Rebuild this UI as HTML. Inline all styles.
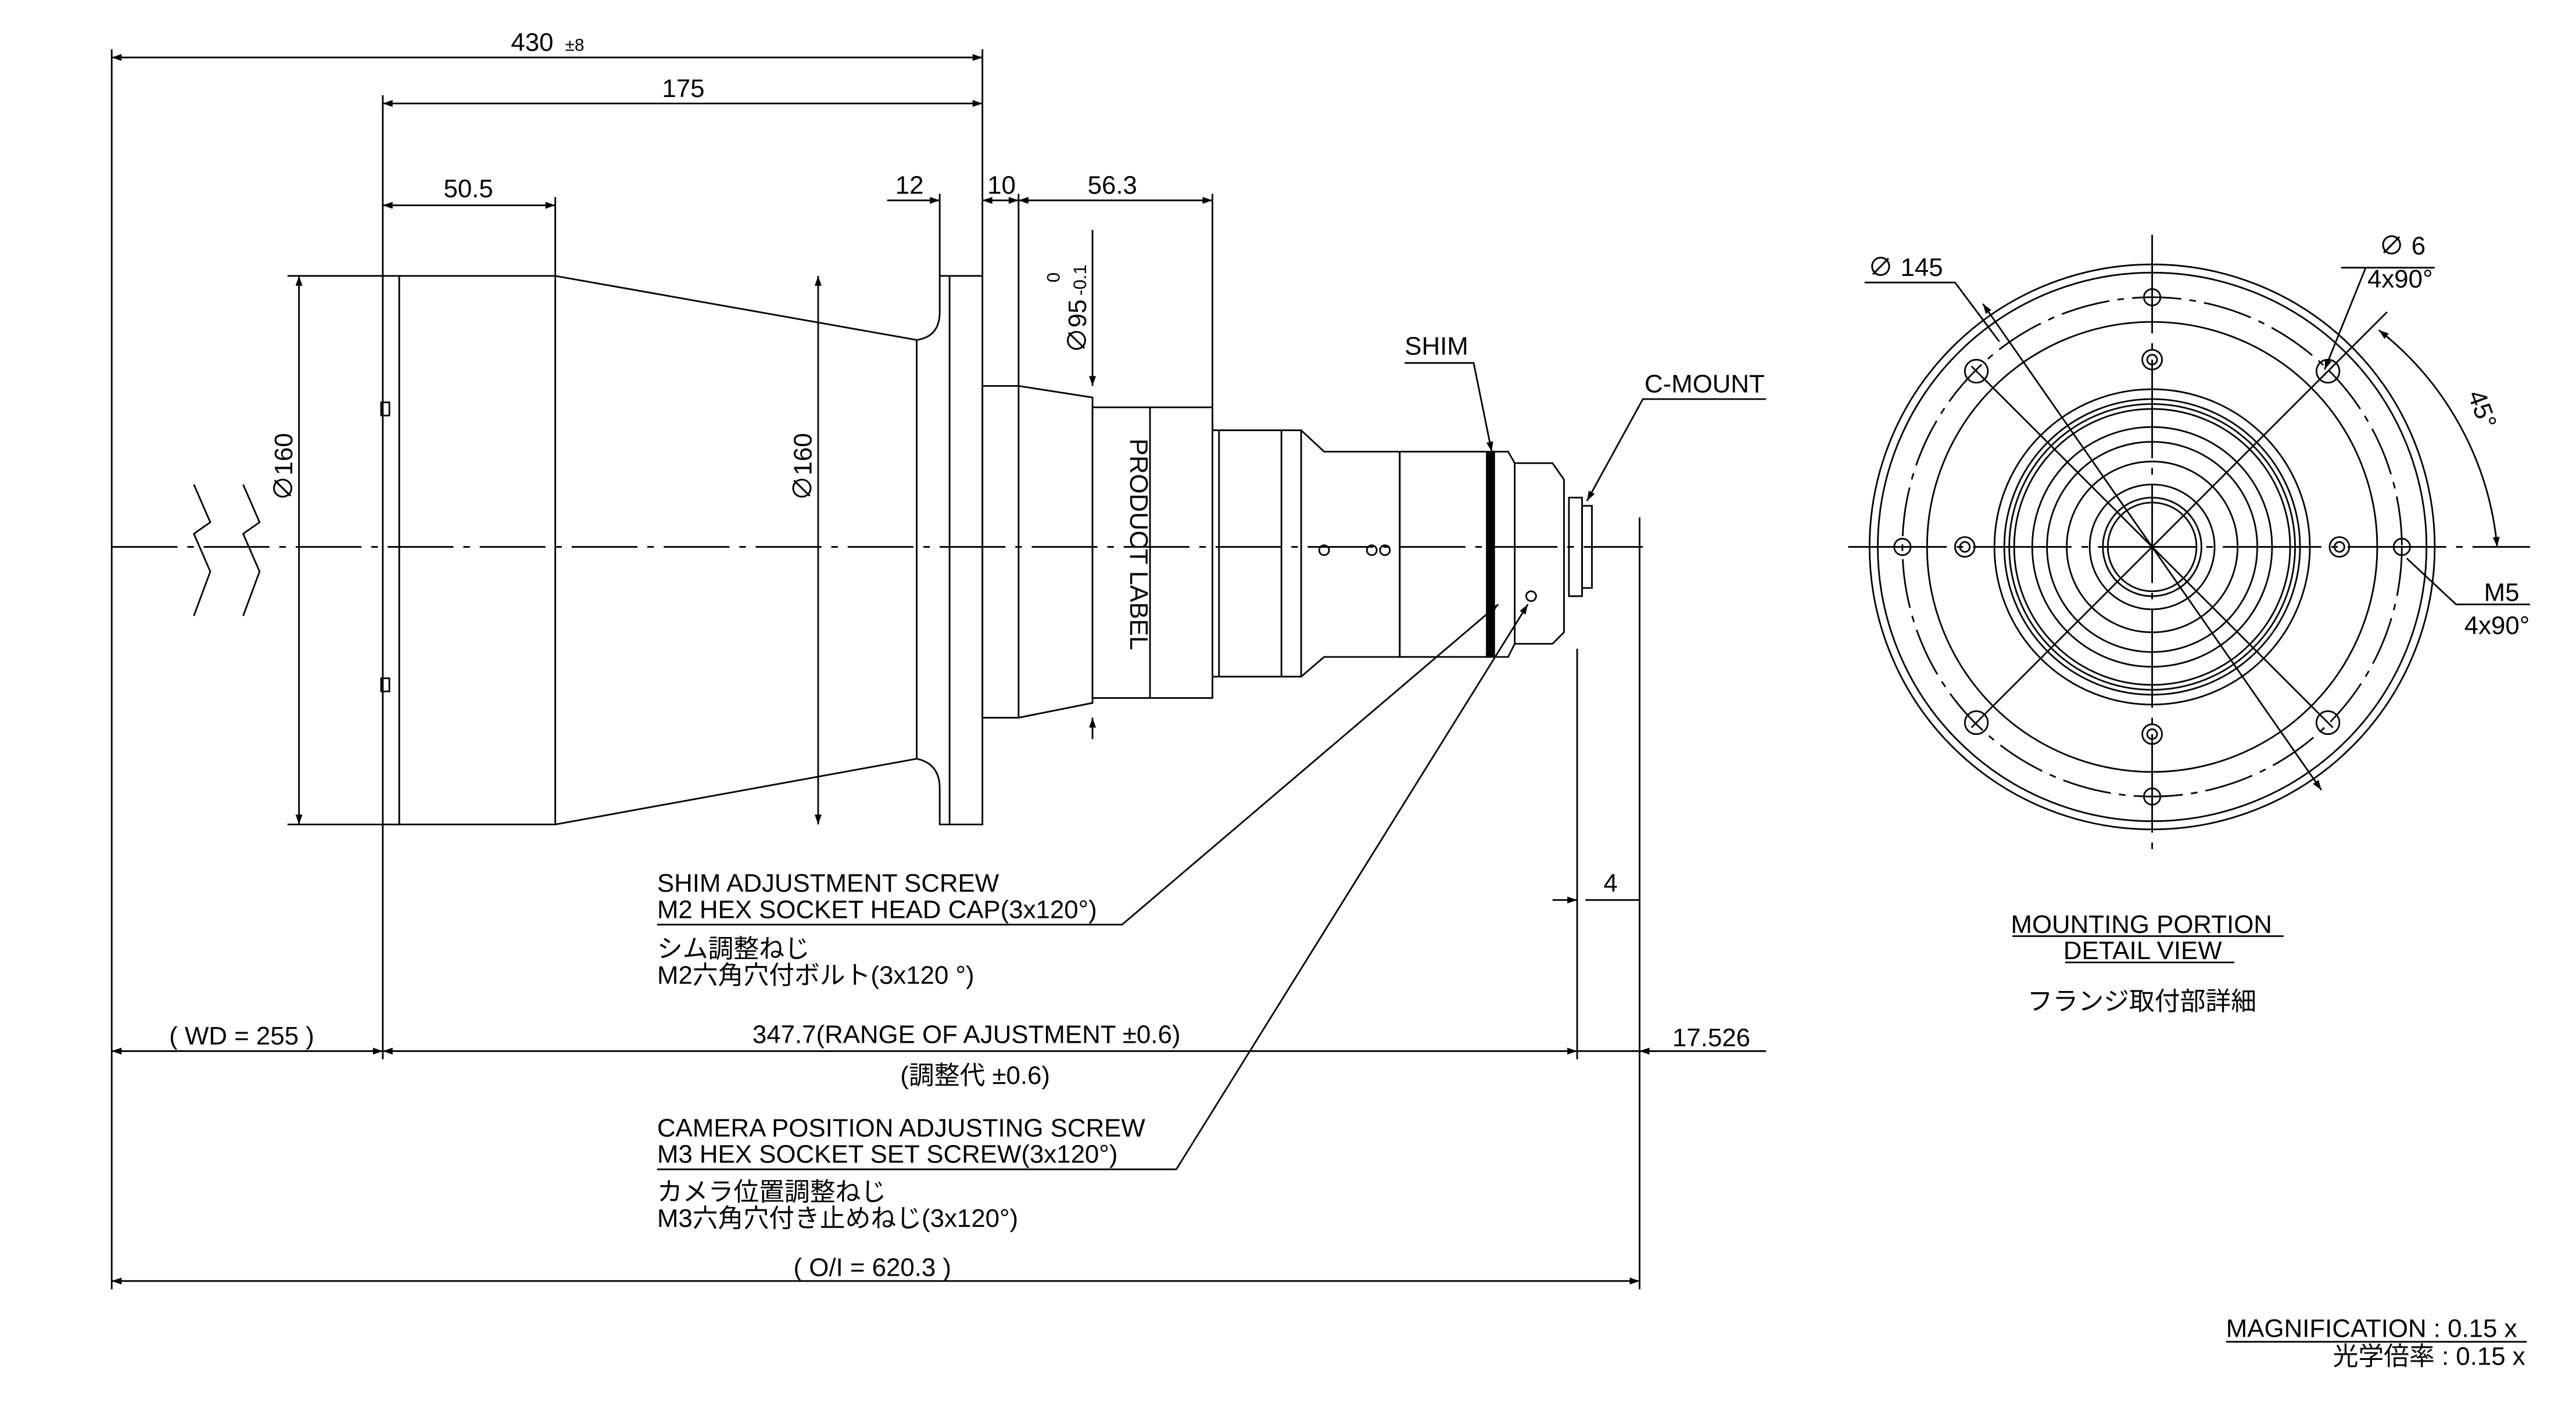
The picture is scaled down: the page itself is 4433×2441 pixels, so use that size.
<!DOCTYPE html>
<html><head><meta charset="utf-8"><style>
html,body{margin:0;padding:0;background:#fff;}
svg{display:block;}
text{font-family:"Liberation Sans","Noto Sans CJK JP",sans-serif;fill:#000;}
</style></head><body>
<svg width="4433" height="2441" viewBox="0 0 1568 863.4" preserveAspectRatio="none" xmlns="http://www.w3.org/2000/svg">
<defs>
<marker id="a" viewBox="0 0 10 10" refX="10" refY="5" markerWidth="10" markerHeight="6" orient="auto-start-reverse" markerUnits="userSpaceOnUse"><path d="M0,1.5 L10,5 L0,8.5z" fill="#000"/></marker>
</defs>
<rect width="1568" height="863.4" fill="#fff"/>
<g stroke="#000" stroke-width="1" fill="none">
<line x1="68" y1="30" x2="68" y2="640"/>
<line x1="598" y1="30" x2="598" y2="168"/>
<line x1="233" y1="58" x2="233" y2="168"/>
<line x1="338" y1="120" x2="338" y2="168"/>
<line x1="572" y1="118" x2="572" y2="168"/>
<line x1="620" y1="118" x2="620" y2="235"/>
<line x1="738" y1="118" x2="738" y2="248"/>
<line x1="68" y1="35" x2="598" y2="35" marker-start="url(#a)" marker-end="url(#a)"/>
<line x1="233" y1="63" x2="598" y2="63" marker-start="url(#a)" marker-end="url(#a)"/>
<line x1="233" y1="125" x2="338" y2="125" marker-start="url(#a)" marker-end="url(#a)"/>
<line x1="540" y1="122" x2="572" y2="122" marker-end="url(#a)"/>
<line x1="598" y1="122" x2="620" y2="122" marker-start="url(#a)" marker-end="url(#a)"/>
<line x1="620" y1="122" x2="738" y2="122" marker-start="url(#a)" marker-end="url(#a)"/>
<line x1="175" y1="168" x2="233" y2="168"/><line x1="175" y1="502" x2="233" y2="502"/>
<line x1="182" y1="168" x2="182" y2="502" marker-start="url(#a)" marker-end="url(#a)"/>
<line x1="498" y1="168" x2="498" y2="502" marker-start="url(#a)" marker-end="url(#a)"/>
<line x1="665" y1="140" x2="665" y2="235" marker-end="url(#a)"/>
<line x1="665" y1="437" x2="665" y2="450" marker-start="url(#a)"/>
<path d="M118,295 L128,318 L118,325 L128,348 L118,375"/>
<path d="M148,295 L158,318 L148,325 L158,348 L148,375"/>
<line x1="68" y1="333" x2="1000" y2="333" stroke-dasharray="40,6,4,6"/>
<rect x="233" y="168" width="10" height="334"/>
<rect x="243" y="168" width="95" height="334"/>
<path d="M338,168 L558,207 M338,502 L558,462"/>
<path d="M558,207 Q572,205 572,190 L572,168 L598,168 L598,502 L572,502 L572,480 Q572,465 558,462 Z"/>
<line x1="578" y1="168" x2="578" y2="502"/>
<rect x="232" y="245" width="5" height="8"/><rect x="232" y="413" width="5" height="8"/>
<rect x="598" y="235" width="22" height="202"/>
<path d="M620,235 L665,242 L665,428 L620,437"/>
<rect x="665" y="248" width="73" height="177"/>
<line x1="700" y1="248" x2="700" y2="425"/>
<path d="M738,248 L738,262 L792,262 L792,412 L738,412 L738,425"/>
<line x1="742" y1="262" x2="742" y2="412"/>
<path d="M792,262 L806,275 L852,275 L852,400 L806,400 L792,412"/>
<line x1="780" y1="262" x2="780" y2="412"/>
<rect x="852" y="275" width="53" height="125"/>
<rect x="906" y="275" width="3.5" height="125" fill="#000"/>
<path d="M909.5,275 L918,275 L922,282 L945,282 L952,292 L952,385 L945,392 L922,392 L918,400 L909.5,400"/>
<line x1="922" y1="282" x2="922" y2="392"/>
<rect x="955" y="303" width="8" height="60"/>
<rect x="963" y="308" width="6" height="50"/>
<circle cx="806" cy="335" r="3"/><circle cx="835" cy="335" r="3"/><circle cx="843" cy="335" r="3"/>
<circle cx="932" cy="363" r="3"/>
<line x1="998" y1="315" x2="998" y2="785"/>
<line x1="960" y1="395" x2="960" y2="645"/>
<line x1="945" y1="548" x2="960" y2="548" marker-end="url(#a)"/>
<line x1="965" y1="548" x2="998" y2="548"/>
<line x1="233" y1="502" x2="233" y2="645"/>
<path d="M855,221 L897,221 L908,275" marker-end="url(#a)"/>
<path d="M1075,243 L1000,243 L966,305" marker-end="url(#a)"/>
<path d="M400,563 L683,563 L912,368" marker-end="url(#a)"/>
<path d="M400,712 L716,712 L930,368" marker-end="url(#a)"/>
<line x1="68" y1="640" x2="233" y2="640" marker-start="url(#a)" marker-end="url(#a)"/>
<line x1="233" y1="640" x2="960" y2="640" marker-start="url(#a)" marker-end="url(#a)"/>
<line x1="998" y1="640" x2="1075" y2="640" marker-start="url(#a)"/>
<line x1="960" y1="640" x2="998" y2="640"/>
<line x1="68" y1="780" x2="998" y2="780" marker-start="url(#a)" marker-end="url(#a)"/>
<line x1="68" y1="640" x2="68" y2="785"/>
<g transform="translate(1310,333)">
<circle r="172"/><circle r="167"/>
<circle r="152" stroke-dasharray="30,5,4,5"/>
<circle r="137"/><circle r="96"/><circle r="90"/><circle r="87"/><circle r="84"/>
<circle r="73"/><circle r="64"/><circle r="52"/><circle r="38"/><circle r="30"/><circle r="27"/>
<line x1="0" y1="-190" x2="0" y2="190" stroke-dasharray="60,6,4,6"/>
<line x1="-185" y1="0" x2="230" y2="0" stroke-dasharray="60,6,4,6"/>
<line x1="-110" y1="-110" x2="110" y2="110"/>
<line x1="110" y1="-110" x2="-110" y2="110"/>
<circle cx="0" cy="-114" r="6"/><circle cx="0" cy="-114" r="3"/>
<circle cx="0" cy="114" r="6"/><circle cx="0" cy="114" r="3"/>
<circle cx="-114" cy="0" r="6"/><circle cx="-114" cy="0" r="3"/>
<circle cx="114" cy="0" r="6"/><circle cx="114" cy="0" r="3"/>
<circle cx="0" cy="-152" r="5"/><circle cx="0" cy="152" r="5"/>
<circle cx="-152" cy="0" r="5"/><circle cx="152" cy="0" r="5"/>
<circle cx="-107" cy="-107" r="7"/><circle cx="107" cy="-107" r="7"/>
<circle cx="-107" cy="107" r="7"/><circle cx="107" cy="107" r="7"/>
<line x1="-103" y1="-148" x2="103" y2="148" marker-start="url(#a)" marker-end="url(#a)"/>
<path d="M138,-132 A190,190 0 0 1 210,0" marker-start="url(#a)" marker-end="url(#a)"/>
<line x1="100" y1="-100" x2="143" y2="-143"/>
</g>
<path d="M1135,172 L1190,172 L1217,208"/>
<path d="M1425,163 L1482,163 M1440,163 L1415,225" marker-end="url(#a)"/>
<path d="M1465,340 L1495,368 L1540,368"/>
<line x1="1355" y1="817" x2="1538" y2="817"/>
<line x1="1225" y1="570" x2="1390" y2="570"/>
<line x1="1257" y1="586" x2="1360" y2="586"/>
</g>
<g font-size="15.5">
<text x="311" y="31">430</text><text x="344" y="31" font-size="10.5">±8</text>
<text x="403" y="59">175</text>
<text x="270" y="120">50.5</text>
<text x="545" y="118">12</text>
<text x="601" y="118">10</text>
<text x="662" y="118">56.3</text>
<text transform="translate(178,305) rotate(-90)">∅160</text>
<text transform="translate(494,305) rotate(-90)">∅160</text>
<text transform="translate(661,215) rotate(-90)">∅95</text>
<text transform="translate(645,172) rotate(-90)" font-size="11">0</text>
<text transform="translate(661,180) rotate(-90)" font-size="11">-0.1</text>
<text transform="translate(688,267) rotate(90)">PRODUCT LABEL</text>
<text x="855" y="216">SHIM</text>
<text x="1001" y="239">C-MOUNT</text>
<text x="976" y="543">4</text>
<text x="400" y="543">SHIM ADJUSTMENT SCREW</text>
<text x="400" y="559">M2 HEX SOCKET HEAD CAP(3x120°)</text>
<text x="400" y="583">シム調整ねじ</text>
<text x="400" y="599">M2六角穴付ボルト(3x120 °)</text>
<text x="103" y="636">( WD = 255 )</text>
<text x="458" y="635">347.7(RANGE OF AJUSTMENT ±0.6)</text>
<text x="548" y="660">(調整代 ±0.6)</text>
<text x="1018" y="637">17.526</text>
<text x="400" y="692">CAMERA POSITION ADJUSTING SCREW</text>
<text x="400" y="708">M3 HEX SOCKET SET SCREW(3x120°)</text>
<text x="400" y="731">カメラ位置調整ねじ</text>
<text x="400" y="747">M3六角穴付き止めねじ(3x120°)</text>
<text x="483" y="777">( O/I = 620.3 )</text>
<text x="1137" y="168">∅ 145</text>
<text x="1448" y="155">∅ 6</text>
<text x="1441" y="175">4x90°</text>
<text transform="translate(1502,240) rotate(70)">45°</text>
<text x="1512" y="366">M5</text>
<text x="1500" y="386">4x90°</text>
<text x="1224" y="568">MOUNTING PORTION</text>
<text x="1256" y="584">DETAIL VIEW</text>
<text x="1234" y="615">フランジ取付部詳細</text>
<text x="1355" y="814">MAGNIFICATION : 0.15 x</text>
<text x="1420" y="831">光学倍率 : 0.15 x</text>
</g>
</svg>
</body></html>
